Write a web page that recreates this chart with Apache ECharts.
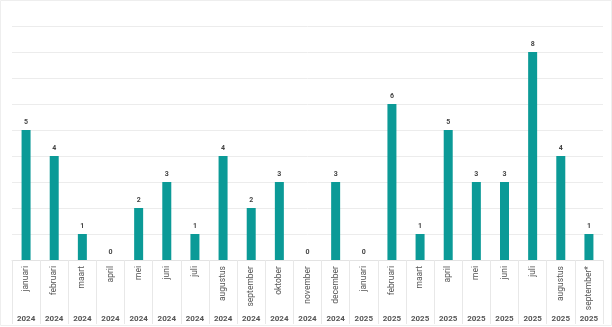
<!DOCTYPE html>
<html>
<head>
<meta charset="utf-8">
<script src="https://cdn.jsdelivr.net/npm/echarts@6/dist/echarts.min.js"></script>
<style>html,body{margin:0;padding:0;background:#fff}#c{width:612px;height:327px}</style>
</head>
<body>
<div id="c"></div>
<script>
const months = ["januari","februari","maart","april","mei","juni","juli","augustus","september","oktober","november","december","januari","februari","maart","april","mei","juni","juli","augustus","september*"];
const years = ["2024","2024","2024","2024","2024","2024","2024","2024","2024","2024","2024","2024","2025","2025","2025","2025","2025","2025","2025","2025","2025"];
const values = [5,4,1,0,2,3,1,4,2,3,0,3,0,6,1,5,3,3,8,4,1];

const chart = echarts.init(document.getElementById('c'), null, {renderer:'canvas'});
chart.setOption({
  animation: false,
  backgroundColor: '#fff',
  grid: {left: 12, right: 9, top: 26, bottom: 67, containLabel: false},
  graphic: [
    {type:'rect', shape:{x:0.5,y:0.5,width:611,height:325}, style:{fill:'none', stroke:'#eeeeee', lineWidth:1}, silent:true}
  ],
  xAxis: [
    {
      type: 'category', data: months, position: 'bottom',
      axisLine: {show: true, lineStyle: {color: '#e3e3e3'}},
      axisTick: {show: true, length: 64, interval: 0, lineStyle: {color: '#e8e8e8'}},
      axisLabel: {rotate: 90, interval: 0, fontSize: 8.5, color: '#555', margin: 6, fontFamily: 'Roboto'}
    },
    {
      type: 'category', data: years, position: 'bottom', offset: 0,
      axisLine: {show: false}, axisTick: {show: false},
      axisLabel: {interval: 0, fontSize: 8, fontWeight: 'bold', color: '#555', margin: 55, fontFamily: 'Roboto'}
    }
  ],
  yAxis: {
    type: 'value', min: 0, max: 9, interval: 1,
    axisLabel: {show: false}, axisLine: {show: false}, axisTick: {show: false},
    splitLine: {lineStyle: {color: '#ececec'}}
  },
  series: [{
    type: 'bar', data: values, xAxisIndex: 0, barWidth: 9,
    itemStyle: {color: '#0b9a97'},
    label: {show: true, position: 'top', fontSize: 7, fontWeight: 'bold', color: '#444', distance: 4, fontFamily: 'Roboto'}
  }]
});
</script>
</body>
</html>
